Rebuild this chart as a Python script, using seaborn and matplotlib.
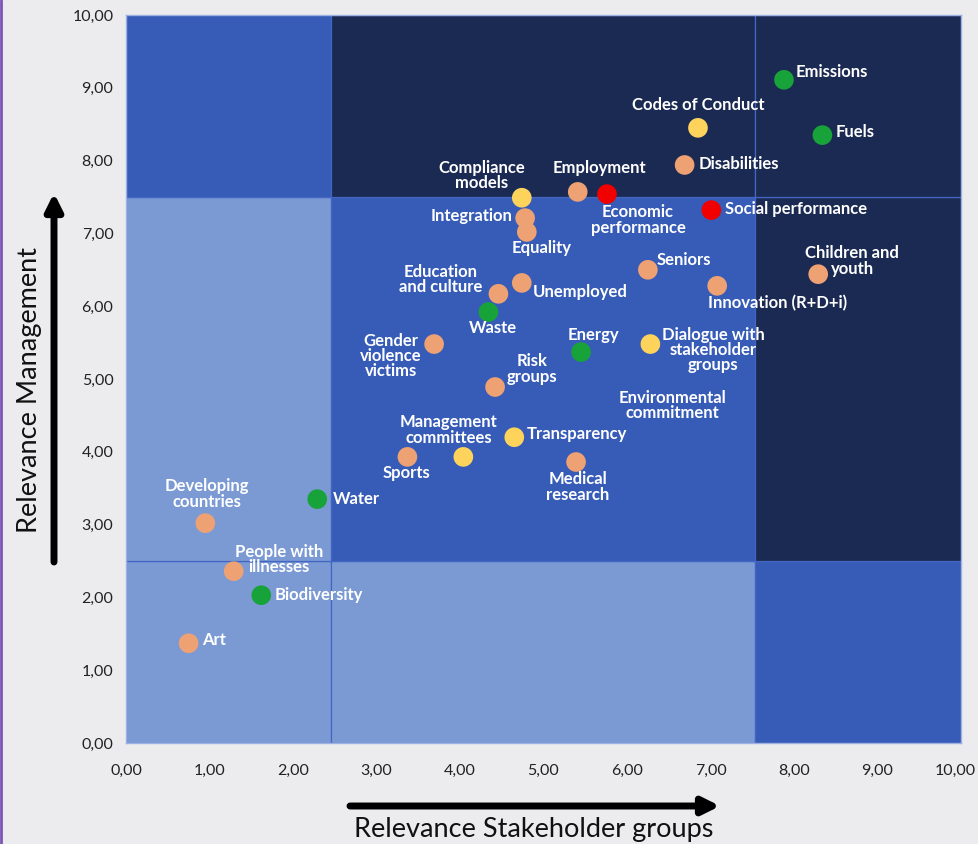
import pandas as pd
import numpy as np
import matplotlib.pyplot as plt
import seaborn as sns
from matplotlib.patches import Rectangle
from matplotlib.lines import Line2D
from matplotlib.transforms import ScaledTranslation

# topics, position on the materiality matrix and topic group
topics = ["Emissions", "Fuels", "Codes of Conduct", "Disabilities", "Employment",
          "Economic\nperformance", "Compliance\nmodels", "Integration", "Equality",
          "Social performance", "Seniors", "Innovation (R+D+i)", "Children and\nyouth",
          "Unemployed", "Education\nand culture", "Waste", "Gender\nviolence\nvictims",
          "Energy", "Dialogue with\nstakeholder\ngroups", "Risk\ngroups",
          "Transparency", "Management\ncommittees", "Sports", "Medical\nresearch",
          "Water", "Developing\ncountries", "People with\nillnesses", "Biodiversity", "Art"]
stakeholders = [7.88, 8.34, 6.85, 6.69, 5.41, 5.76, 4.74, 4.78, 4.80, 7.01, 6.25, 7.08,
                8.29, 4.74, 4.46, 4.34, 3.69, 5.45, 6.28, 4.42, 4.65, 4.04, 3.37, 5.39,
                2.29, 0.95, 1.29, 1.62, 0.75]
management = [9.11, 8.35, 8.45, 7.94, 7.57, 7.54, 7.49, 7.21, 7.02, 7.32, 6.50, 6.28,
              6.44, 6.32, 6.17, 5.92, 5.48, 5.37, 5.48, 4.89, 4.20, 3.93, 3.93, 3.86,
              3.35, 3.02, 2.36, 2.03, 1.37]
group = ["Environment", "Environment", "Governance", "Social", "Social",
         "Economic", "Governance", "Social", "Social",
         "Economic", "Social", "Social", "Social",
         "Social", "Social", "Environment", "Social",
         "Environment", "Governance", "Social",
         "Governance", "Governance", "Social", "Social",
         "Environment", "Social", "Social", "Environment", "Social"]

# label without its own marker
extra_label = "Environmental\ncommitment"
extra_xy = (6.54, 4.64)

# label offsets in pixels (dx, dy, ha)
offsets = [(12, 8, "left"), (13, 3, "left"), (0, 23, "center"), (14, 1, "left"),
           (22, 24, "center"), (31, -26, "center"), (-40, 22, "center"), (-13, 2, "right"),
           (15, -16, "center"), (14, 1, "left"), (9, 10, "left"), (-9, -17, "left"),
           (34, 13, "center"), (11, -9, "left"), (-58, 14, "center"), (5, -16, "center"),
           (-43, -12, "center"), (12, 17, "center"), (63, -6, "center"), (37, 18, "center"),
           (12, 3, "left"), (-15, 27, "center"), (-1, -16, "center"), (2, -25, "center"),
           (16, 0, "left"), (2, 29, "center"), (45, 12, "center"), (13, 0, "left"),
           (13, 3, "left")]

df = pd.DataFrame({"topic": topics, "x": stakeholders, "y": management, "group": group})
palette = {"Social": "#eea173", "Environment": "#18a33a",
           "Governance": "#fdd35c", "Economic": "#f20000"}

sns.set_style("white")
plt.rcParams['font.family'] = ['Lato', 'DejaVu Sans']

fig = plt.figure(figsize=(9.79, 8.44), dpi=100, facecolor="#ececee")
ax = fig.add_axes([126 / 979, 101 / 844, 835 / 979, 728 / 844])

# background cells of the matrix
light, mid, dark = "#7b9ad3", "#375cb7", "#1b2a52"
xb = [0, 2.45, 7.53, 10]
yb = [0, 2.5, 7.5, 10]
cells = [[light, light, mid], [light, mid, dark], [mid, dark, dark]]
for i in range(3):
    for j in range(3):
        ax.add_patch(Rectangle((xb[j], yb[i]), xb[j + 1] - xb[j], yb[i + 1] - yb[i],
                               facecolor=cells[i][j], edgecolor="#4366c4", lw=0.9, zorder=0))

sns.scatterplot(data=df, x="x", y="y", hue="group", palette=palette, s=200,
                edgecolor="none", legend=False, ax=ax, zorder=3)

for name, xv, yv, (dx, dy, ha) in zip(topics, stakeholders, management, offsets):
    ax.annotate(name, (xv, yv), xytext=(dx, dy), textcoords="offset pixels",
                ha=ha, va="center", color="white", fontsize=12, fontweight="bold",
                linespacing=0.95, multialignment="center", zorder=4)
ax.text(extra_xy[0], extra_xy[1], extra_label, ha="center", va="center", color="white",
        fontsize=12, fontweight="bold", linespacing=0.95, zorder=4)

ax.set_xlim(0, 10)
ax.set_ylim(0, 10)
ticks = np.arange(0, 11)
ax.set_xticks(ticks)
ax.set_yticks(ticks)
ax.set_xticklabels([f"{t:.2f}".replace(".", ",") for t in ticks])
ax.set_yticklabels([f"{t:.2f}".replace(".", ",") for t in ticks])
ax.tick_params(length=0, labelsize=11.5, colors="#222222")
ax.tick_params(axis="x", pad=15)
ax.tick_params(axis="y", pad=9)
ax.set_xlabel("")
ax.set_ylabel("")
last = ax.get_xticklabels()[-1]
last.set_transform(last.get_transform() + ScaledTranslation(-6 / 100, 0, fig.dpi_scale_trans))
for sp in ax.spines.values():
    sp.set_color("#9db2e3")
    sp.set_linewidth(1)

# axis titles with arrows
fig.text(534 / 979, 1 - 830 / 844, "Relevance Stakeholder groups", ha="center",
         va="center", fontsize=19.5, color="#111111")
fig.text(30 / 979, 1 - 390 / 844, "Relevance Management", ha="center", va="center",
         rotation=90, fontsize=19.5, color="#111111")
ax.annotate("", xy=(720, 844 - 806), xytext=(350, 844 - 806), xycoords="figure pixels",
            textcoords="figure pixels",
            arrowprops=dict(arrowstyle="-|>,head_length=1.0,head_width=0.5", lw=5,
                            color="black", shrinkA=0, shrinkB=0))
ax.annotate("", xy=(54, 844 - 193), xytext=(54, 844 - 562), xycoords="figure pixels",
            textcoords="figure pixels",
            arrowprops=dict(arrowstyle="-|>,head_length=1.0,head_width=0.5", lw=5,
                            color="black", shrinkA=0, shrinkB=0))
fig.add_artist(Line2D([0.001, 0.001], [0, 1], color="#7a55b5", lw=2,
                      transform=fig.transFigure))

fig.savefig("out.png", dpi=100, facecolor=fig.get_facecolor())
